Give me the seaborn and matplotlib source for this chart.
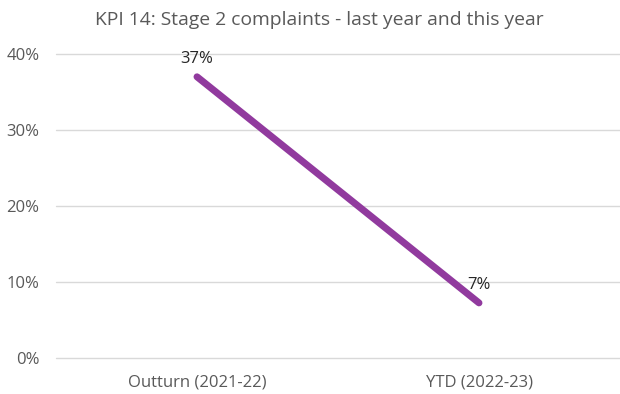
import matplotlib
matplotlib.use("Agg")
import matplotlib.pyplot as plt
import seaborn as sns
import pandas as pd
from matplotlib.ticker import PercentFormatter

# Stage 2 complaints rate, last year outturn vs this year to date
periods = ["Outturn (2021-22)", "YTD (2022-23)"]
rates = [0.37, 0.0725]
y_ticks = [0.0, 0.1, 0.2, 0.3, 0.4]

df = pd.DataFrame({"period": periods, "rate": rates})

sns.set_style("white")
plt.rcParams["font.family"] = ["Open Sans", "DejaVu Sans"]

fig = plt.figure(figsize=(6.2, 3.94), dpi=100)
ax = fig.add_axes([56 / 620, 1 - 358 / 394, 1 - 56 / 620, (358 - 54) / 394])

line_color = "#913a9e"
grey_text = "#595959"

sns.lineplot(data=df, x="period", y="rate", ax=ax, color=line_color,
             linewidth=5, solid_capstyle="round", sort=False)

ax.set_ylim(0, 0.4)
ax.set_xlim(-0.5, 1.5)
ax.set_yticks(y_ticks)
ax.yaxis.set_major_formatter(PercentFormatter(1.0, decimals=0))
ax.grid(axis="y", color="#d9d9d9", linewidth=1)
ax.set_axisbelow(True)
for gl in ax.get_ygridlines():
    gl.set_clip_on(False)
for s in ax.spines.values():
    s.set_visible(False)
ax.set_xlabel("")
ax.set_ylabel("")
ax.tick_params(axis="both", length=0, labelsize=12, labelcolor=grey_text)
ax.tick_params(axis="y", pad=12)
ax.tick_params(axis="x", pad=12)

for i, v in enumerate(rates):
    ax.annotate(f"{v:.0%}", (i, v), xytext=(0, 7), textcoords="offset points",
                ha="center", va="bottom", fontsize=12, color="#262626")

fig.text(319 / 620, 1 - 20 / 394, "KPI 14: Stage 2 complaints - last year and this year",
         ha="center", va="center", fontsize=13.9, color=grey_text)

fig.savefig("out.png", dpi=100)
